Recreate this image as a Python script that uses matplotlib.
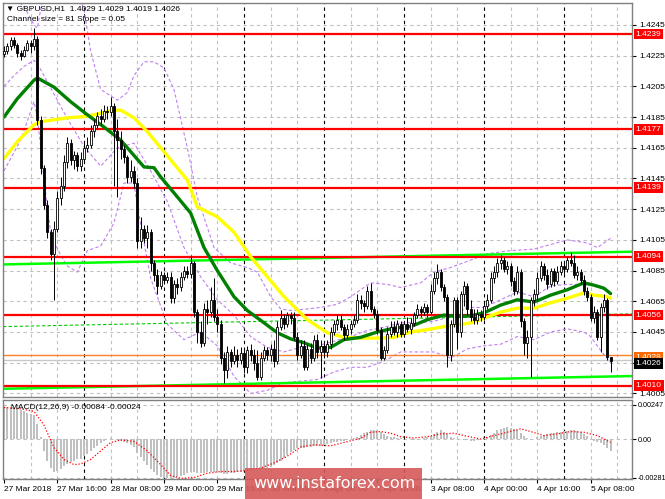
import numpy as np
import matplotlib.pyplot as plt
import matplotlib.transforms as mtransforms
from matplotlib.patches import Rectangle

plt.rcParams['font.family'] = ['Liberation Sans', 'DejaVu Sans']
plt.rcParams['axes.unicode_minus'] = False

# GBPUSD H1 candles, values in pips above 1.4000 (bar 0 = 27 Mar 00:00)
opens = [226, 228, 231, 235, 232, 227, 225, 229, 233, 231,
         236, 183, 152, 128, 110, 96, 112, 132, 140, 156,
         168, 157, 160, 153, 158, 165, 167, 176, 180, 186,
         184, 189, 188, 192, 176, 170, 164, 159, 146, 150,
         142, 104, 112, 106, 110, 90, 82, 75, 82, 79,
         81, 67, 76, 74, 81, 85, 83, 90, 58, 45,
         38, 60, 58, 66, 55, 50, 28, 20, 32, 26,
         30, 27, 31, 22, 33, 30, 25, 16, 28, 33,
         30, 34, 26, 48, 54, 50, 56, 54, 42, 30,
         36, 22, 34, 28, 40, 32, 36, 32, 37, 45,
         50, 53, 48, 43, 47, 50, 53, 66, 64, 62,
         72, 60, 57, 46, 28, 33, 44, 48, 45, 50,
         44, 50, 47, 51, 56, 60, 58, 61, 58, 72,
         80, 84, 74, 68, 30, 50, 66, 45, 70, 75,
         60, 55, 53, 57, 55, 62, 66, 80, 84, 90,
         92, 86, 88, 78, 72, 84, 52, 38, 42, 66,
         70, 80, 88, 82, 76, 85, 78, 84, 88, 86,
         92, 90, 82, 84, 79, 72, 68, 54, 58, 42,
         61, 66, 29]
highs = [231, 233, 237, 237, 233, 229, 231, 235, 235, 243,
         238, 186, 154, 131, 112, 117, 137, 146, 160, 172,
         171, 163, 162, 162, 168, 172, 180, 184, 188, 190,
         193, 192, 198, 194, 184, 176, 167, 160, 157, 153,
         145, 120, 115, 115, 112, 92, 86, 85, 84, 84,
         84, 79, 80, 84, 88, 88, 95, 91, 60, 52,
         64, 66, 74, 80, 60, 53, 32, 36, 34, 36,
         34, 35, 33, 36, 37, 34, 33, 32, 36, 35,
         37, 40, 52, 59, 57, 58, 58, 58, 45, 40,
         40, 37, 38, 43, 44, 40, 38, 40, 48, 53,
         57, 56, 50, 50, 53, 56, 70, 69, 66, 75,
         77, 62, 59, 48, 36, 48, 52, 52, 53, 52,
         52, 55, 54, 58, 63, 62, 64, 63, 76, 84,
         89, 86, 76, 70, 53, 68, 68, 72, 78, 77,
         66, 60, 60, 59, 65, 70, 84, 88, 93, 95,
         94, 91, 90, 81, 88, 86, 54, 46, 68, 73,
         84, 91, 90, 86, 87, 87, 88, 91, 90, 94,
         97, 95, 88, 86, 82, 74, 70, 62, 60, 64,
         70, 67, 29]
lows = [224, 226, 229, 230, 224, 222, 224, 228, 227, 229,
        180, 148, 125, 106, 92, 66, 110, 128, 137, 152,
        154, 151, 150, 150, 155, 162, 165, 172, 177, 180,
        182, 184, 186, 140, 133, 158, 155, 142, 143, 139,
        100, 100, 103, 100, 85, 78, 70, 73, 76, 77,
        64, 64, 70, 72, 79, 80, 80, 55, 38, 35,
        36, 50, 55, 52, 45, 24, 12, 15, 22, 24,
        22, 24, 18, 18, 26, 20, 14, 14, 26, 27,
        26, 22, 24, 46, 47, 48, 50, 40, 27, 28,
        20, 20, 25, 26, 28, 15, 28, 29, 34, 43,
        46, 46, 40, 41, 44, 48, 51, 60, 58, 60,
        58, 54, 44, 27, 27, 31, 42, 43, 42, 42,
        42, 45, 44, 49, 54, 55, 56, 55, 57, 70,
        76, 72, 65, 22, 26, 48, 34, 42, 62, 56,
        52, 50, 50, 52, 53, 60, 64, 77, 81, 86,
        84, 83, 75, 69, 70, 48, 30, 28, 16, 62,
        66, 78, 79, 73, 74, 75, 76, 82, 83, 84,
        88, 80, 79, 76, 69, 65, 52, 51, 40, 32,
        58, 27, 19]
closes = [228, 231, 235, 232, 227, 225, 229, 233, 231, 236,
          183, 152, 128, 110, 96, 112, 132, 140, 156, 168,
          157, 160, 153, 158, 165, 167, 176, 180, 186, 184,
          189, 188, 192, 176, 170, 164, 159, 146, 150, 142,
          104, 112, 106, 110, 90, 82, 75, 82, 79, 81,
          67, 76, 74, 81, 85, 83, 90, 58, 45, 38,
          60, 58, 66, 55, 50, 28, 20, 32, 26, 30,
          27, 31, 22, 33, 30, 25, 16, 28, 33, 30,
          34, 26, 48, 54, 50, 56, 54, 42, 30, 36,
          22, 34, 28, 40, 32, 36, 32, 37, 45, 50,
          53, 48, 43, 47, 50, 53, 66, 64, 62, 72,
          60, 57, 46, 28, 33, 44, 48, 45, 50, 44,
          50, 47, 51, 56, 60, 58, 61, 58, 72, 80,
          84, 74, 68, 30, 50, 66, 45, 70, 75, 60,
          55, 53, 57, 55, 62, 66, 80, 84, 90, 92,
          86, 88, 78, 72, 84, 52, 38, 42, 66, 70,
          80, 88, 82, 76, 85, 78, 84, 88, 86, 92,
          90, 82, 84, 79, 72, 68, 54, 58, 42, 61,
          66, 29, 26]

# moving averages (bar index, pips)
green_idx = [0, 4, 9, 10, 15, 20, 25, 30, 35, 39, 42, 45, 47, 52, 56, 60, 64, 69, 73, 78, 82, 86,
             90, 94, 98, 102, 107, 112, 117, 122, 127, 132, 136, 140, 144, 149, 154, 159, 164, 169,
             174, 177, 180, 182]
green_val = [185, 197, 209, 210.5, 204.5, 195, 186.5, 178.5, 170, 160, 152.5, 152, 146, 133, 122.5,
             100, 85, 68, 59, 51, 44.5, 40.5, 38, 34.5, 35, 40, 41.5, 45, 47.5, 48.5, 53, 56, 55, 55.5,
             57.5, 62.5, 66, 64.5, 69, 72.5, 77, 75.5, 73.5, 70]
yellow_idx = [0, 4, 9, 11, 19, 25, 29, 33, 35, 39, 43, 47, 55, 58, 64, 69, 74, 79, 84, 88, 91, 97,
              102, 107, 112, 117, 122, 127, 132, 136, 140, 144, 149, 154, 159, 164, 169, 174, 177,
              181, 182]
yellow_val = [158, 169, 180, 182, 184.5, 185.5, 187.5, 189.5, 189.5, 184.5, 175.5, 165, 144, 126.5,
              120, 110, 94, 81, 68, 59.5, 53, 44.5, 41.5, 41, 41, 41.5, 45, 46.5, 48.5, 49.5, 51, 54,
              58, 60.5, 60.5, 64, 67, 70.5, 69, 68, 67]

# Bollinger bands (violet dashed)
bb_up_idx = [0, 6, 9, 10, 11, 12, 15, 20, 24, 26, 29, 34, 37, 39, 42, 45, 48, 51, 55, 58, 63, 68,
             73, 76, 80, 83, 86, 91, 95, 100, 104, 110, 115, 119, 125, 129, 134, 139, 145, 152, 159,
             164, 169, 175, 178, 182]
bb_up = [268, 257, 245, 243, 255, 270, 275, 278, 255, 228, 203, 196, 201, 212, 221, 221, 217, 203,
         165, 133, 100, 90, 87, 84, 68, 60, 59, 60, 61, 63, 68, 77, 76, 74, 77, 84, 87, 91, 96, 98,
         99, 102, 105, 103, 100, 106]
bb_mid_idx = [0, 3, 6, 9, 11, 13, 15, 17, 19, 24, 29, 34, 39, 44, 49, 54, 59, 64, 69, 74, 79, 84,
              89, 94, 99, 104, 109, 114, 119, 124, 129, 134, 139, 144, 149, 154, 159, 164, 169, 174,
              179, 182]
bb_mid = [205, 212, 218, 222, 216, 208, 200, 192, 184, 166, 153, 165, 168, 150, 130, 100, 81, 66, 56,
          42, 35, 32, 35, 36, 39, 42, 46, 48, 51, 51, 52, 55, 61, 61, 66, 71, 68, 75, 76, 76, 75, 70]
bb_low_idx = [0, 5, 9, 10, 11, 12, 13, 14, 15, 17, 19, 22, 25, 29, 33, 36, 39, 40, 44, 49, 54, 59,
              64, 69, 74, 79, 84, 89, 94, 99, 104, 109, 114, 119, 124, 129, 134, 139, 144, 149, 154,
              159, 164, 169, 174, 176, 179, 182]
bb_low = [150, 170, 195, 185, 166, 144, 126, 110, 104, 95, 88, 84, 98, 101, 116, 142, 142, 127, 80,
          50, 40, 45, 36, 16, 5, 7, 12, 13, 14, 19, 22, 22, 26, 32, 32, 32, 28, 34, 36, 37, 42, 40,
          45, 47, 45, 42, 33, 25]

# equidistant channel (start / end price) and horizontal levels
chan_upper = [89.0, 97.3]
chan_mid = [48.5, 56.8]
chan_lower = [8.0, 16.3]
red_levels = [239, 177, 139, 94, 56, 10]
orange_level = 30
bid = 26

# MACD(12,26,9) main values in 1e-5 units, signal read at sample bars
macd = [235, 235, 230, 225, 217, 210, 200, 190, 180, 170,
        111, 12, -86, -161, -210, -235, -230, -215, -198, -180,
        -165, -156, -148, -141, -124, -106, -86, -67, -47, -27,
        -12, -2, 5, 2, -7, -17, -25, -32, -42, -57,
        -99, -131, -156, -185, -215, -240, -259, -272, -279, -281,
        -281, -279, -274, -269, -259, -249, -240, -240, -247, -249,
        -247, -242, -240, -240, -242, -247, -254, -254, -249, -245,
        -240, -235, -230, -230, -225, -225, -227, -225, -217, -210,
        -200, -190, -175, -156, -136, -116, -94, -77, -67, -67,
        -62, -57, -57, -52, -52, -47, -42, -37, -32, -25,
        -25, -17, -12, -7, 1, 7, 17, 32, 42, 52,
        62, 67, 62, 49, 37, 25, 17, 12, 7, 5,
        2, -1, -2, -5, -2, 2, 7, 12, 22, 37,
        52, 62, 54, 37, 17, 7, -1, -2, -7, -7,
        -12, -12, -7, -2, 5, 17, 32, 47, 62, 74,
        82, 86, 82, 72, 62, 42, 22, 5, -7, -2,
        12, 22, 32, 37, 42, 47, 52, 54, 57, 59,
        62, 62, 57, 49, 37, 22, -1, -12, -22, -32,
        -42, -62, -84]
sig_idx = [0, 5, 9, 12, 15, 18, 21, 23, 26, 29, 32, 35, 39, 43, 47, 50, 53, 57, 61, 65, 69, 73, 77,
           81, 85, 89, 93, 98, 102, 107, 110, 113, 116, 119, 123, 127, 131, 135, 138, 143, 147, 151,
           155, 158, 162, 166, 170, 174, 178, 182]
sig_val = [228, 218, 200, 100, -62, -148, -185, -180, -148, -86, -25, -7, -17, -86, -185, -264, -284,
           -279, -247, -235, -235, -227, -210, -173, -124, -57, -42, -49, -25, 5, 49, 54, 42, 17, 7,
           17, 37, 42, 25, 0, 25, 49, 74, 54, 25, 37, 54, 49, 25, -24]

x_labels = ['27 Mar 2018', '27 Mar 16:00', '28 Mar 08:00', '29 Mar 00:00', '29 Mar 16:00',
            '30 Mar 08:00', '2 Apr 00:00', '2 Apr 16:00', '3 Apr 08:00', '4 Apr 00:00',
            '4 Apr 16:00', '5 Apr 08:00']


def px(v):
    return 1.4 + np.asarray(v, dtype=float) / 10000.0


W, H = 665, 499
fig = plt.figure(figsize=(W / 100, H / 100), dpi=100)
ax = fig.add_axes([3 / W, 1 - 397 / H, 629 / W, 394 / H])
ax2 = fig.add_axes([3 / W, 1 - 479 / H, 629 / W, 79 / H])

n = len(closes)
idx = np.arange(n)
xmin, xmax = -0.3, -0.3 + 629 / 3.333

for a in (ax, ax2):
    a.set_xlim(xmin, xmax)
    for s in a.spines.values():
        s.set_color('#808080')
        s.set_linewidth(1.0)
    for b in range(8, int(xmax) + 1, 8):
        if b % 24 == 0:
            a.axvline(b, color='black', lw=0.8, ls=(0, (3, 3)), zorder=0.6)
        else:
            a.axvline(b, color='#c0c0c0', lw=0.8, ls=(0, (3, 3)), zorder=0.5)

# ---- main price panel
ax.set_ylim(px(2.65), px(259.3))
yt = [1.4005 + 0.002 * k for k in range(13)]
ax.set_yticks(yt)
# 1.4025 sits under the price boxes
ax.set_yticklabels(['' if abs(v - 1.4025) < 1e-6 else '%.4f' % v for v in yt])
ax.yaxis.tick_right()
ax.tick_params(axis='y', labelsize=6, length=3, pad=2, width=0.8)
ax.tick_params(axis='x', bottom=False, labelbottom=False)
for v in yt:
    ax.axhline(v, color='#c0c0c0', lw=0.8, ls=(0, (3, 3)), zorder=0.5)

ax.plot(bb_up_idx, px(bb_up), color='#c080f0', lw=0.8, ls=(0, (3, 2)), zorder=1)
ax.plot(bb_mid_idx, px(bb_mid), color='#c080f0', lw=0.8, ls=(0, (3, 2)), zorder=1)
ax.plot(bb_low_idx, px(bb_low), color='#c080f0', lw=0.8, ls=(0, (3, 2)), zorder=1)

ax.plot([xmin, xmax], px(chan_upper), color='#00ff00', lw=1.8, zorder=1.5)
ax.plot([xmin, xmax], px(chan_lower), color='#00ff00', lw=1.8, zorder=1.5)
ax.plot([xmin, xmax], px(chan_mid), color='#00cc00', lw=0.8, ls=(0, (3, 2)), zorder=1.5)

for lv in red_levels:
    ax.axhline(px(lv), color='#ff0000', lw=1.6, zorder=1.6)
ax.axhline(px(orange_level), color='#ff7f27', lw=1.0, zorder=1.6)
ax.axhline(px(bid + 1), color='#c8c8c8', lw=1.0, zorder=1.55)

ax.plot(yellow_idx, px(yellow_val), color='#ffff00', lw=2.4, zorder=2, solid_capstyle='round')
ax.plot(green_idx, px(green_val), color='#008000', lw=2.4, zorder=2.1, solid_capstyle='round')

o = np.array(opens, float)
c = np.array(closes, float)
ax.vlines(idx, px(lows), px(highs), color='black', lw=0.7, zorder=3)
bottom = px(np.minimum(o, c))
height = np.maximum(np.abs(c - o), 0.4) / 10000.0
fills = ['white' if cc >= oo else 'black' for oo, cc in zip(o, c)]
ax.bar(idx, height, width=0.62, bottom=bottom, color=fills, edgecolor='black',
       linewidth=0.6, zorder=3.1)

trans = mtransforms.blended_transform_factory(ax.transAxes, ax.transData)
for lv in red_levels:
    ax.text(1.006, px(lv), '%.4f' % px(lv), transform=trans, fontsize=6, color='white',
            ha='left', va='center', clip_on=False, zorder=5,
            bbox=dict(boxstyle='square,pad=0.22', fc='#ff0000', ec='none'))
ax.text(1.006, px(orange_level - 1.5), '1.4028', transform=trans, fontsize=6, color='white',
        ha='left', va='center', clip_on=False, zorder=5,
        bbox=dict(boxstyle='square,pad=0.22', fc='#ff6a00', ec='none'))
ax.text(1.006, px(bid - 1.5), '%.4f' % px(bid), transform=trans, fontsize=6, color='white',
        ha='left', va='center', clip_on=False, zorder=5.1,
        bbox=dict(boxstyle='square,pad=0.22', fc='black', ec='none'))

ax.text(0.004, 0.987, '\u25bc GBPUSD,H1  1.4029 1.4029 1.4019 1.4026', transform=ax.transAxes,
        fontsize=6, ha='left', va='center', zorder=6)
ax.text(0.006, 0.957, 'Channel size = 81 Slope = 0.05', transform=ax.transAxes,
        fontsize=6, ha='left', va='center', zorder=6)

# ---- MACD panel
mv = np.array(macd, float) * 1e-5
ax2.set_ylim(-0.00289, 0.00282)
ax2.set_yticks([0.00247, 0.0, -0.00281])
ax2.set_yticklabels(['0.00247', '0.00', '-0.00281'])
ax2.yaxis.tick_right()
ax2.tick_params(axis='y', labelsize=5.2, length=3, pad=1, width=0.8)
for v in (0.00247, 0.0, -0.00281):
    ax2.axhline(v, color='#c0c0c0', lw=0.8, ls=(0, (3, 3)), zorder=0.5)
ax2.bar(idx, mv, width=0.62, color='#c0c0c0', zorder=2)
ax2.plot(sig_idx, np.array(sig_val, float) * 1e-5, color='#ff0000', lw=0.9,
         ls=(0, (1, 1.5)), zorder=3)
ax2.text(0.012, 0.90, 'MACD(12,26,9) -0.00084 -0.00024', transform=ax2.transAxes,
         fontsize=6, ha='left', va='center', zorder=6)

ax2.set_xticks(np.arange(len(x_labels)) * 16)
ax2.set_xticklabels(x_labels)
ax2.tick_params(axis='x', labelsize=6, length=3, pad=2, width=0.8)
for t in ax2.get_xticklabels():
    t.set_ha('left')

# watermark
fig.add_artist(Rectangle((245 / W, 0), 177 / W, 31 / H, transform=fig.transFigure,
                         fc='#d65a5a', ec='none', alpha=0.9, zorder=10))
fig.text(334 / W, 1 - 484 / H, 'www.instaforex.com', color='white', fontsize=11.5,
         family='DejaVu Sans', ha='center', va='center', zorder=11)

fig.savefig('out.png', dpi=100)
